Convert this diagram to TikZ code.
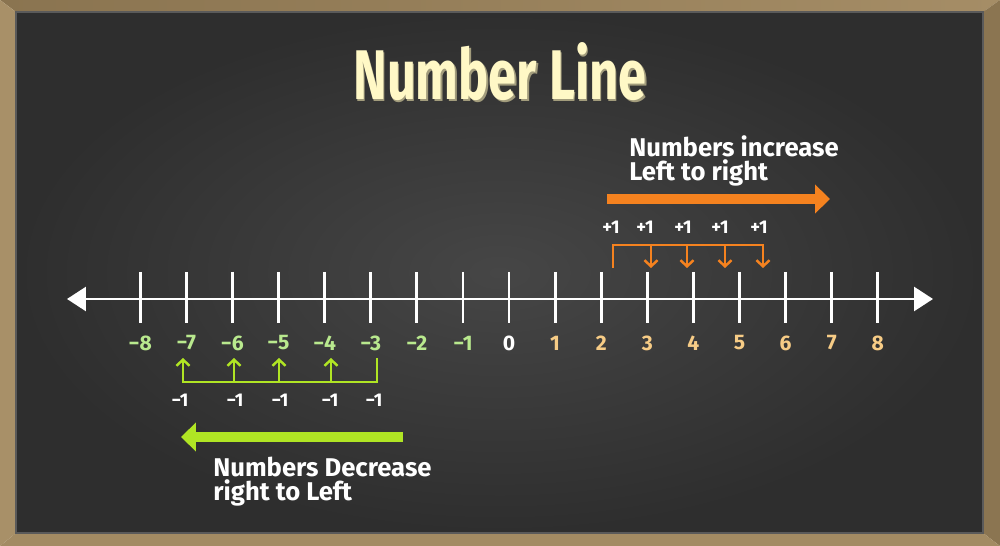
\documentclass[tikz,border=0pt]{standalone}
\usepackage{fontspec}
\setmainfont{Fira Sans}
\newfontfamily\titlefont[FakeStretch=0.72]{Fira Sans}
\usepackage{xcolor}
\usetikzlibrary{arrows.meta,calc,positioning}

\definecolor{board}{HTML}{2E2E2E}
\definecolor{boardmid}{HTML}{464646}
\definecolor{boardedge}{HTML}{5A5A5A}
\definecolor{frametopl}{HTML}{8A7450}
\definecolor{frametopr}{HTML}{A58D66}
\definecolor{frameright}{HTML}{8B7551}
\definecolor{framebot}{HTML}{A38B63}
\definecolor{frameleft}{HTML}{A89068}
\definecolor{incr}{HTML}{F5821F}
\definecolor{decr}{HTML}{B0E524}
\definecolor{neglab}{HTML}{B9E98E}
\definecolor{poslab}{HTML}{F7CC86}
\definecolor{titlecol}{HTML}{FFF8C6}
\definecolor{titleshade}{HTML}{A29C7C}

\tikzset{
  axis/.style={white,line width=1.7pt,{Triangle[length=10.8pt,width=13.6pt]}-{Triangle[length=10.8pt,width=13.6pt]}},
  tickline/.style={white,line width=1.6pt},
  numlab/.style={font=\bfseries\fontsize{12}{12}\selectfont},
  steplab/.style={text=white,font=\bfseries\fontsize{10.5}{10.5}\selectfont},
  bracket/.style={line width=1.4pt,-{Straight Barb[length=3.5pt,width=7.5pt]}},
  bigarrow/.style={line width=6pt,-{Triangle[length=8.5pt,width=16pt]}},
  note/.style={text=white,align=left,anchor=north west,inner sep=0pt,font=\bfseries\fontsize{14.6}{13.6}\selectfont},
  titletext/.style={font=\titlefont\bfseries\fontsize{40}{40}\selectfont}
}

\begin{document}
\begin{tikzpicture}[x=0.02cm,y=-0.02cm]
  \useasboundingbox (0,0) rectangle (1000,546);
  % frame
  \shade[left color=frametopl,right color=frametopr] (0,0) -- (1000,0) -- (983,12) -- (16,12) -- cycle;
  \fill[frameright] (1000,0) -- (1000,546) -- (983,533) -- (983,12) -- cycle;
  \fill[framebot] (0,546) -- (1000,546) -- (983,533) -- (16,533) -- cycle;
  \fill[frameleft] (0,0) -- (16,12) -- (16,533) -- (0,546) -- cycle;
  % board
  \shadedraw[inner color=boardmid,outer color=board,draw=boardedge,line width=0.6pt] (16,12) rectangle (983,533);

  % title
  \node[titletext,text=titleshade] (titleshadow) at (501.5,74) {Number Line};
  \node[titletext,text=titlecol] (title) at (500,72) {Number Line};

  % number line
  \coordinate (lend) at (67,299);
  \coordinate (rend) at (933,299);
  \draw[axis] (lend) -- (rend);
  \foreach \i in {-8,...,8}
    \draw[tickline] (509+46.1*\i,272) -- (509+46.1*\i,323);
  \foreach \i in {1,...,8}
    \node[numlab,text=neglab] (neg\i) at (509-46.1*\i,343) {−\i};
  \node[numlab,text=white] (zero) at (509,343) {0};
  \foreach \i in {1,...,8}
    \node[numlab,text=poslab] (pos\i) at (509+46.1*\i,343) {\i};

  % counting up
  \node[note] (incnote) at (629,135) {Numbers increase\\Left to right};
  \coordinate (upA) at (607,199);
  \coordinate (upB) at (830,199);
  \draw[bigarrow,incr] (upA) -- (upB);
  \foreach \x [count=\k] in {611,645,683,720,759}
    \node[steplab] (plus\k) at (\x,227) {+1};
  \foreach \x [count=\k from 0] in {613,651,687,725,763} {
    \coordinate (ot\k) at (\x,245);
    \coordinate (ob\k) at (\x,268);
  }
  \draw[bracket,incr] (ob0) -- (ot0) -- (ot4) -- (ob4);
  \foreach \k in {1,2,3}
    \draw[bracket,incr] (ot\k) -- (ob\k);

  % counting down
  \foreach \x [count=\k from 0] in {183,234,279,331,377} {
    \coordinate (gb\k) at (\x,382);
    \coordinate (gt\k) at (\x,358);
  }
  \draw[bracket,decr] (gt4) -- (gb4) -- (gb0) -- (gt0);
  \foreach \k in {1,2,3}
    \draw[bracket,decr] (gb\k) -- (gt\k);
  \foreach \x [count=\k] in {180,235,280,330,374}
    \node[steplab] (minus\k) at (\x,400) {−1};
  \coordinate (downA) at (403,437);
  \coordinate (downB) at (181,437);
  \draw[bigarrow,decr] (downA) -- (downB);
  \node[note] (decnote) at (213,457) {Numbers Decrease\\right to Left};
\end{tikzpicture}
\end{document}
